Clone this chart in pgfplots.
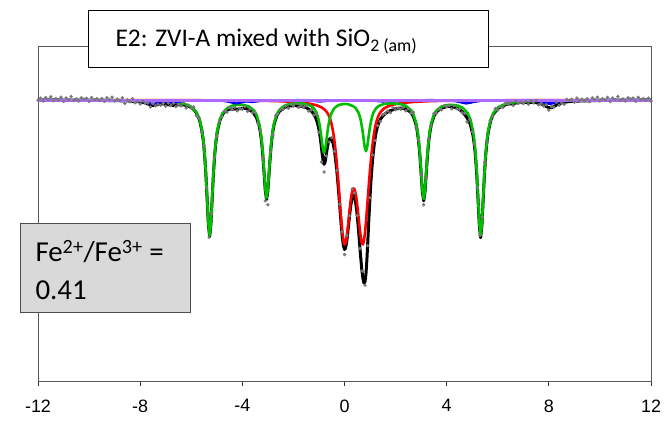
\documentclass[border=0pt]{standalone}
\usepackage{pgfplots}
\pgfplotsset{compat=1.18}
\usepackage{fontspec}
\setmainfont{Liberation Sans}
\newfontfamily\calibri{Carlito}
\definecolor{fitgreen}{RGB}{0,190,0}
\definecolor{fitred}{RGB}{255,0,0}
\definecolor{fitblue}{RGB}{0,0,255}
\definecolor{fitpurple}{RGB}{175,105,255}
\definecolor{datagray}{RGB}{120,120,120}
\begin{document}
\begin{tikzpicture}
\useasboundingbox (-38bp,-40bp) rectangle (628bp,381bp);
\begin{axis}[
  at={(0,0)}, anchor=south west,
  scale only axis, width=613bp, height=335bp,
  xmin=-12, xmax=12, ymin=-281, ymax=54,
  y filter/.expression={-y},
  xtick={-12,-8,-4,0,4,8,12},
  xticklabels={-12,-8,-4,0,4,8,12},
  ytick=\empty,
  xtick pos=left,
  tick align=outside,
  major tick length=5bp,
  axis line style={draw=black!65, line width=0.7pt},
  x tick style={draw=black!80, line width=0.7pt},
  x tick label style={font=\fontsize{18}{20}\selectfont, yshift=-10bp},
]
% total fit (depth in px below baseline)
\addplot[black, line width=3pt, line join=round] coordinates {
(-12,0.2) (-11,0.25) (-10,0.4) (-9,0.6) (-8.5,0.95) (-8.1,1.6) (-8.0,2.0) (-7.9,2.4) (-7.8,3.0) (-7.7,3.9)
(-7.6,4.8) (-7.5,5.4) (-7.4,5.15) (-7.3,4.55) (-7.2,4.1) (-7.1,3.95) (-7.0,4.15) (-6.9,4.65) (-6.8,5.2)
(-6.7,5.4) (-6.6,5.1) (-6.5,4.85) (-6.4,4.85) (-6.3,4.9) (-6.2,5.45) (-6.1,6.25) (-6.0,7.6) (-5.9,9.5)
(-5.8,12.9) (-5.68,19.8) (-5.58,31.1) (-5.53,40.5) (-5.48,53.9) (-5.43,73.0) (-5.38,98.3) (-5.33,124.2)
(-5.28,136.4) (-5.23,124.4) (-5.18,98.5) (-5.13,73.2) (-5.08,54.3) (-5.03,40.9) (-4.98,31.6) (-4.88,20.6)
(-4.78,14.7) (-4.7,12.0) (-4.6,10.2) (-4.5,9.2) (-4.4,9.15) (-4.3,9.25) (-4.2,9.2) (-4.1,8.65) (-4.0,8.3)
(-3.9,8.3) (-3.8,9.0) (-3.7,10.1) (-3.6,12.0) (-3.55,13.5) (-3.45,17.3) (-3.35,24.8) (-3.30,31.4)
(-3.25,40.8) (-3.20,54.5) (-3.15,72.5) (-3.10,91.0) (-3.05,99.6) (-3.00,90.8) (-2.95,72.1) (-2.90,54.0)
(-2.85,40.2) (-2.80,30.5) (-2.75,23.8) (-2.65,15.8) (-2.55,11.4) (-2.35,7.4) (-2.15,5.9) (-1.93,5.65)
(-1.70,6.25) (-1.50,7.7) (-1.30,10.9) (-1.20,14.4) (-1.16,16.2) (-1.12,18.4) (-1.08,21.2) (-1.04,24.9)
(-1.00,29.7) (-0.96,35.9) (-0.92,43.7) (-0.88,52.5) (-0.84,60.5) (-0.80,64.3) (-0.76,62.1) (-0.72,55.9)
(-0.68,48.9) (-0.64,43.3) (-0.60,39.8) (-0.56,38.2) (-0.52,38.4) (-0.48,40.5) (-0.44,44.3) (-0.40,49.9)
(-0.36,57.1) (-0.32,66.1) (-0.28,76.7) (-0.24,88.6) (-0.20,101.8) (-0.16,115.1) (-0.12,127.7) (-0.08,138.5)
(-0.04,146.0) (0.00,149.5) (0.04,148.2) (0.08,142.7) (0.12,134.5) (0.16,124.8) (0.20,115.1) (0.24,106.6)
(0.28,100.2) (0.32,96.3) (0.36,95.5) (0.40,97.7) (0.44,103.0) (0.48,111.1) (0.52,121.7) (0.56,133.8)
(0.60,146.7) (0.64,159.1) (0.68,170.1) (0.72,178.4) (0.76,182.9) (0.80,182.1) (0.84,174.1) (0.88,158.2)
(0.92,137.5) (0.96,116.0) (1.00,96.6) (1.04,79.7) (1.08,65.8) (1.12,54.4) (1.16,45.2) (1.20,37.8)
(1.24,32.1) (1.28,27.7) (1.32,24.4) (1.36,21.7) (1.40,19.6) (1.44,18.0) (1.48,16.7) (1.52,15.5)
(1.56,14.5) (1.60,13.5) (1.64,12.9) (1.76,11.0) (1.98,9.0) (2.2,8.1) (2.4,8.8) (2.6,12.45) (2.70,16.65)
(2.80,24.7) (2.85,31.45) (2.90,41.1) (2.95,55.05) (3.00,73.3) (3.05,92.15) (3.10,100.8) (3.15,92.15)
(3.20,73.3) (3.25,54.85) (3.30,41.0) (3.35,31.3) (3.40,24.55) (3.50,16.2) (3.60,11.9) (3.80,7.95)
(4.0,6.6) (4.1,6.35) (4.2,6.65) (4.3,7.25) (4.4,8.05) (4.5,9.55) (4.6,11.5) (4.7,14.3) (4.8,17.9)
(4.88,21.5) (4.93,24.7) (5.03,35.1) (5.08,44.0) (5.13,56.8) (5.18,75.45) (5.23,100.4) (5.28,126.0)
(5.33,137.6) (5.38,125.4) (5.43,99.3) (5.48,73.85) (5.53,54.5) (5.58,41.0) (5.63,31.5) (5.73,20.1)
(5.83,13.95) (6.03,7.9) (6.33,4.45) (6.83,2.6) (7.04,2.3) (7.4,2.5) (7.5,2.7) (7.6,3.2) (7.7,3.95)
(7.8,5.05) (7.9,6.5) (8.0,7.7) (8.1,7.65) (8.2,6.5) (8.3,5.0) (8.4,3.75) (8.5,2.9) (8.6,2.3) (8.8,1.55)
(9.0,1.15) (10,0.5) (11,0.3) (12,0.2)
};
% measured spectrum
\addplot[only marks, mark=*, mark size=1.5bp, datagray, mark options={draw=none, fill=datagray}] coordinates {
(-12.0,0.2) (-11.9,-1.8) (-11.8,1.0) (-11.7,-2.5) (-11.6,-0.7) (-11.5,-3.2) (-11.4,0.7) (-11.3,-1.4)
(-11.2,0) (-11.1,-2.8) (-11.0,1.5) (-10.9,-2.0) (-10.8,-0.3) (-10.7,-3.5) (-10.6,0.5) (-10.5,-1.1)
(-10.4,1.1) (-10.3,-2.2) (-10.2,-0.8) (-10.1,-1.7) (-10.0,1.4) (-9.9,-2.5) (-9.8,-0.1) (-9.7,-1.3)
(-9.6,0.5) (-9.5,-1.5) (-9.4,1.3) (-9.3,-2.2) (-9.2,-0.4) (-9.1,-2.8) (-9.0,1.0) (-8.9,-0.9) (-8.8,0.5)
(-8.7,-2.2) (-8.6,3.4) (-8.5,-0.1) (-8.4,1.8) (-8.3,-1.3) (-8.2,2.9) (-8.1,1.5) (-8.0,3.9) (-7.9,1.1)
(-7.8,3.1) (-7.7,3.0) (-7.6,7.0) (-7.5,3.7) (-7.4,5.9) (-7.3,4.1) (-7.2,5.3) (-7.1,3.2) (-7.0,6.2)
(-6.9,3.2) (-6.8,5.5) (-6.7,3.2) (-6.6,6.7) (-6.5,4.5) (-6.4,5.8) (-6.3,3.1) (-6.2,7.9) (-6.1,5.2)
(-6.0,8.2) (-5.9,6.9) (-5.8,15.7) (-5.7,17.9) (-5.6,32.0) (-5.5,45.3) (-5.4,87.9) (-5.3,137.3)
(-5.2,113.8) (-5.1,57.6) (-5.0,36.2) (-4.9,21.2) (-4.8,16.9) (-4.7,11.2) (-4.6,12.2) (-4.5,7.7)
(-4.4,9.5) (-4.3,7.1) (-4.2,10.8) (-4.1,8.3) (-4.0,9.2) (-3.9,6.5) (-3.8,11.4) (-3.7,9.0) (-3.6,12.6)
(-3.5,12.3) (-3.4,23.0) (-3.3,30.7) (-3.2,58.0) (-3.1,100.8) (-3.0,104.8) (-2.9,52.1) (-2.8,34.9)
(-2.7,15.7) (-2.6,13.9) (-2.5,9.5) (-2.4,9.2) (-2.3,6.0) (-2.2,8.2) (-2.1,4.3) (-2.0,5.9) (-1.9,3.4)
(-1.8,7.3) (-1.7,5.7) (-1.6,7.5) (-1.5,5.6) (-1.4,11.1) (-1.3,9.8) (-1.2,15.0) (-1.1,14.5) (-1.0,32.5)
(-0.9,62.0) (-0.8,72.0) (-0.7,56.0) (-0.6,42.0) (-0.5,37.6) (-0.4,51.3) (-0.3,70.4) (-0.2,104.2)
(-0.1,131.8) (0.0,154.5) (0.1,135.6) (0.2,115.7) (0.3,89.0) (0.4,93.0) (0.5,115.6) (0.6,148.5)
(0.7,171.0) (0.8,185.1) (0.9,145.7) (1.0,97.8) (1.1,54.9) (1.2,40.6) (1.3,25.6) (1.4,21.5) (1.5,14.8)
(1.6,13.6) (1.7,11.0) (1.8,12.7) (1.9,7.9) (2.0,9.7) (2.1,7.9) (2.2,9.3) (2.3,7.5) (2.4,10.8) (2.5,8.7)
(2.6,13.1) (2.7,12.3) (2.8,27.9) (2.9,40.3) (3.0,75.1) (3.1,104.8) (3.2,78.1) (3.3,38.8) (3.4,25.8)
(3.5,13.6) (3.6,13.3) (3.7,9.0) (3.8,9.9) (3.9,5.7) (4.0,6.7) (4.1,5.5) (4.2,8.9) (4.3,5.6) (4.4,8.8)
(4.5,9.1) (4.6,12.7) (4.7,13.5) (4.8,21.9) (4.9,19.6) (5.0,31.8) (5.1,44.0) (5.2,87.9) (5.3,135.2)
(5.4,117.4) (5.5,61.8) (5.6,41.6) (5.7,20.7) (5.8,16.0) (5.9,8.6) (6.0,10.0) (6.1,6.7) (6.2,7.5)
(6.3,3.5) (6.4,4.2) (6.5,2.7) (6.6,5.5) (6.7,1.3) (6.8,3.4) (6.9,2.1) (7.0,3.6) (7.1,1.6) (7.2,4.3)
(7.3,0.9) (7.4,2.8) (7.5,0.5) (7.6,4.8) (7.7,3.6) (7.8,6.0) (7.9,4.7) (8.0,10.1) (8.1,6.6) (8.2,7.1)
(8.3,2.4) (8.4,5.2) (8.5,2.7) (8.6,4.2) (8.7,-0.6) (8.8,0.5) (8.9,-0.8) (9.0,2.2) (9.1,-1.9) (9.2,0.5)
(9.3,-0.8) (9.4,0.9) (9.5,-1.2) (9.6,1.6) (9.7,-2.0) (9.8,-0.3) (9.9,-2.8) (10.0,0.9) (10.1,-1.2)
(10.2,0.2) (10.3,-2.6) (10.4,1.6) (10.5,-2.0) (10.6,-0.3) (10.7,-3.5) (10.8,0.5) (10.9,-1.1) (11.0,1.0)
(11.1,-2.2) (11.2,-0.9) (11.3,-1.9) (11.4,1.3) (11.5,-2.7) (11.6,-0.3) (11.7,-1.5) (11.8,0.2) (11.9,-1.8)
(12.0,1.0)
};
% doublet
\addplot[fitred, line width=2.6pt, line join=round] coordinates {
(-12,0.1) (-9,0.11) (-7,0.18) (-5,0.35) (-4,0.53) (-3,0.9) (-2.5,1.25) (-2.0,1.87) (-1.6,2.78) (-1.3,4.0)
(-1.1,5.3) (-1.0,6.2) (-0.92,7.2) (-0.88,7.7) (-0.84,8.4) (-0.80,9.2) (-0.76,10.1) (-0.72,11.2)
(-0.68,12.5) (-0.64,14.2) (-0.60,16.4) (-0.56,19.1) (-0.52,22.6) (-0.48,27.1) (-0.44,32.8) (-0.40,39.8)
(-0.36,48.2) (-0.32,58.1) (-0.28,69.5) (-0.24,82.0) (-0.20,95.5) (-0.16,109.2) (-0.12,122.2) (-0.08,133.2)
(-0.04,141.0) (0.00,144.5) (0.04,143.2) (0.08,137.7) (0.12,129.4) (0.16,119.6) (0.20,109.7) (0.24,100.9)
(0.28,94.1) (0.32,89.8) (0.36,88.4) (0.40,89.8) (0.44,94.1) (0.48,100.9) (0.52,109.7) (0.56,119.6)
(0.60,129.4) (0.64,137.7) (0.68,143.2) (0.72,144.5) (0.76,141.0) (0.80,133.2) (0.84,122.2) (0.88,109.2)
(0.92,95.5) (0.96,82.0) (1.00,69.5) (1.04,58.1) (1.08,48.2) (1.12,39.8) (1.16,32.8) (1.20,27.1)
(1.24,22.6) (1.28,19.1) (1.32,16.4) (1.36,14.2) (1.40,12.5) (1.44,11.2) (1.48,10.1) (1.52,9.2)
(1.56,8.4) (1.60,7.7) (1.64,7.2) (1.72,6.2) (1.82,5.3) (2.02,4.0) (2.32,2.8) (2.72,1.9) (3.22,1.25)
(3.72,0.9) (4.72,0.53) (5.72,0.35) (7.72,0.18) (9.72,0.11) (12,0.1)
};
% iron sextet
\addplot[fitgreen, line width=2.6pt, line join=round] coordinates {
(-12,0.1) (-9,0.3) (-7.5,0.85) (-6.8,1.7) (-6.3,3.5) (-6.0,6.7) (-5.8,12.1) (-5.68,19.0) (-5.58,30.3)
(-5.53,39.7) (-5.48,53.1) (-5.43,72.2) (-5.38,97.5) (-5.33,123.4) (-5.28,135.5) (-5.23,123.5)
(-5.18,97.6) (-5.13,72.3) (-5.08,53.3) (-5.03,39.9) (-4.98,30.5) (-4.88,19.3) (-4.78,13.3) (-4.58,7.9)
(-4.38,5.6) (-4.17,4.8) (-3.95,5.0) (-3.75,6.4) (-3.55,10.3) (-3.45,14.6) (-3.35,22.5) (-3.30,29.3)
(-3.25,38.8) (-3.20,52.6) (-3.15,70.7) (-3.10,89.3) (-3.05,98.0) (-3.00,89.3) (-2.95,70.6) (-2.90,52.5)
(-2.85,38.7) (-2.80,29.1) (-2.75,22.3) (-2.65,14.3) (-2.55,9.9) (-2.35,5.7) (-2.15,4.0) (-1.93,3.4)
(-1.70,3.4) (-1.50,4.1) (-1.30,6.1) (-1.20,8.4) (-1.10,12.6) (-1.05,16.1) (-1.00,21.3) (-0.95,28.7)
(-0.90,38.4) (-0.85,48.4) (-0.80,53.0) (-0.75,48.4) (-0.70,38.4) (-0.65,28.8) (-0.60,21.4) (-0.55,16.2)
(-0.50,12.6) (-0.40,8.3) (-0.30,6.1) (-0.20,4.8) (-0.10,4.3) (0.03,4.0) (0.14,4.2) (0.34,6.2) (0.44,8.2)
(0.54,12.4) (0.59,15.8) (0.64,20.8) (0.69,27.9) (0.74,37.2) (0.79,46.8) (0.84,51.3) (0.89,46.9)
(0.94,37.3) (0.99,28.0) (1.04,20.9) (1.09,16.0) (1.14,12.2) (1.24,8.1) (1.34,6.0) (1.54,4.0) (1.74,3.4)
(1.98,3.5) (2.20,4.2) (2.40,5.8) (2.60,10.0) (2.70,14.4) (2.80,22.6) (2.85,29.4) (2.90,39.1) (2.95,53.1)
(3.00,71.4) (3.05,90.3) (3.10,99.0) (3.15,90.4) (3.20,71.6) (3.25,53.2) (3.30,39.4) (3.35,29.7)
(3.40,23.0) (3.50,14.7) (3.60,10.5) (3.80,6.5) (4.00,5.1) (4.22,4.8) (4.43,5.6) (4.63,7.8) (4.83,13.4)
(4.93,19.4) (5.03,30.6) (5.08,40.0) (5.13,53.3) (5.18,72.4) (5.23,97.7) (5.28,123.6) (5.33,135.5)
(5.38,123.5) (5.43,97.6) (5.48,72.3) (5.53,53.1) (5.58,39.7) (5.63,30.3) (5.73,19.0) (5.83,12.9)
(6.03,7.0) (6.33,3.6) (6.83,1.7) (7.5,0.9) (9,0.3) (12,0.1)
};
% broad magnetic components
\addplot[fitblue, line width=2.2pt, smooth] coordinates {
(-12,0) (-9.5,0.15) (-8.5,0.33) (-8.1,0.8) (-7.8,2.0) (-7.5,4.0) (-7.2,2.0) (-6.9,0.8) (-6.5,0.4)
(-5.8,0.25) (-5.23,0.35) (-4.83,0.75) (-4.53,1.8) (-4.23,3.5) (-3.93,1.8) (-3.63,0.7) (-3.23,0.3)
(-2.5,0.15) (-1.95,0.2) (-1.55,0.35) (-1.25,0.8) (-0.95,1.5) (-0.65,0.8) (-0.35,0.35) (0.05,0.2)
(0.49,0.2) (0.89,0.35) (1.19,0.8) (1.49,1.5) (1.79,0.8) (2.09,0.35) (2.49,0.2) (3.1,0.15) (3.77,0.3)
(4.17,0.7) (4.47,1.8) (4.77,3.5) (5.07,1.8) (5.37,0.75) (5.77,0.35) (6.5,0.3) (7.04,0.4) (7.44,0.8)
(7.74,2.0) (8.04,4.0) (8.34,2.0) (8.64,0.8) (9.04,0.33) (10,0.09) (12,0)
};
\addplot[fitblue, line width=2.2pt, smooth] coordinates {
(-12,0) (-8.0,0.16) (-7.73,0.25) (-7.33,0.6) (-7.03,1.5) (-6.73,3.0) (-6.43,1.5) (-6.13,0.6)
(-5.73,0.3) (-5.0,0.2) (-4.62,0.2) (-4.22,0.4) (-3.92,1.0) (-3.62,2.0) (-3.32,1.0) (-3.02,0.4)
(-2.62,0.2) (-1.9,0.1) (-1.5,0.13) (-1.1,0.2) (-0.8,0.5) (-0.5,1.0) (-0.2,0.5) (0.1,0.2) (0.5,0.13)
(0.84,0.13) (1.24,0.2) (1.54,0.5) (1.84,1.0) (2.14,0.5) (2.44,0.2) (2.84,0.12) (3.5,0.1) (3.96,0.2)
(4.36,0.4) (4.66,1.0) (4.96,2.0) (5.26,1.0) (5.56,0.4) (5.96,0.2) (6.8,0.2) (7.07,0.3) (7.47,0.6)
(7.77,1.5) (8.07,3.0) (8.37,1.5) (8.67,0.6) (9.07,0.25) (10,0.07) (12,0)
};
% baseline component
\addplot[fitpurple, line width=3.5pt] coordinates {
(-12,0.3) (12,0.3)
};
\end{axis}
% title box
\node[draw=black, line width=0.8pt, fill=white, minimum width=400bp, minimum height=57bp,
  inner sep=0pt, anchor=north west] at (50bp,371bp) {};
\node[anchor=base west, font=\calibri\fontsize{25.5}{29}\selectfont] at (74bp,334bp)
  {E2: ZVI-A mixed with SiO\textsubscript{2 (am)}};
% ratio box
\node[draw=black!70, line width=0.8pt, fill=black!15, minimum width=170bp, minimum height=89bp,
  inner sep=0pt, anchor=south west] at (-18bp,68bp) {};
\node[anchor=base west, font=\calibri\fontsize{29}{34}\selectfont] at (-6bp,119bp)
  {Fe\textsuperscript{2+}/Fe\textsuperscript{3+} =};
\node[anchor=base west, font=\calibri\fontsize{29}{34}\selectfont] at (-6bp,81bp) {0.41};
\end{tikzpicture}
\end{document}
